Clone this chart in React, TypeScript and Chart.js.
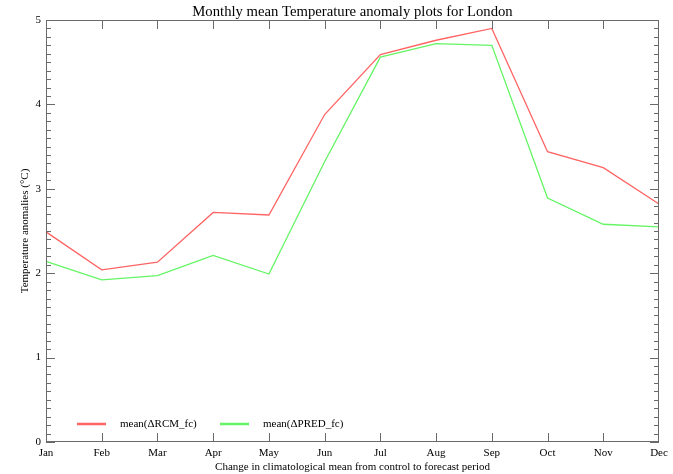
import React, { useEffect, useRef } from "react";
import { Chart, registerables } from "chart.js";

Chart.register(...registerables);

const months = ["Jan", "Feb", "Mar", "Apr", "May", "Jun", "Jul", "Aug", "Sep", "Oct", "Nov", "Dec"];
const rcmValues = [2.49, 2.04, 2.13, 2.72, 2.69, 3.88, 4.59, 4.76, 4.9, 3.44, 3.25, 2.82];
const predValues = [2.14, 1.92, 1.97, 2.21, 1.99, 3.32, 4.56, 4.72, 4.7, 2.89, 2.58, 2.55];
const seriesLabels = ["mean(\u0394RCM_fc)", "mean(\u0394PRED_fc)"];
const seriesColors = ["#ff6464", "#64f564"];
const chartTitle = "Monthly mean Temperature anomaly plots for London";
const xTitle = "Change in climatological mean from control to forecast period";
const yTitle = "Temperature anomalies (\u00b0C)";

const FONT = "'Liberation Serif', 'DejaVu Serif', serif";

const framePlugin = {
  id: "frame",
  afterDraw(chart: any) {
    const { ctx, chartArea, scales } = chart;
    const { left, right, top, bottom } = chartArea;
    const xs = scales.x;
    const ys = scales.y;
    ctx.save();
    ctx.strokeStyle = "#6a6a6a";
    ctx.lineWidth = 1;
    ctx.strokeRect(left + 0.5, top + 0.5, right - left - 1, bottom - top - 1);
    // y ticks (major at integers, minor every 0.1)
    for (let i = 0; i <= 50; i++) {
      const py = Math.round(ys.getPixelForValue(i / 10)) + 0.5;
      const len = i % 10 === 0 ? 9 : 5;
      ctx.beginPath();
      ctx.moveTo(left, py);
      ctx.lineTo(left + len, py);
      ctx.moveTo(right, py);
      ctx.lineTo(right - len, py);
      ctx.stroke();
    }
    // x ticks at each inner month (ends coincide with the frame)
    for (let i = 1; i < months.length - 1; i++) {
      const px = Math.round(xs.getPixelForValue(i)) + 0.5;
      ctx.beginPath();
      ctx.moveTo(px, bottom);
      ctx.lineTo(px, bottom - 9);
      ctx.moveTo(px, top);
      ctx.lineTo(px, top + 9);
      ctx.stroke();
    }
    // title centered over plot area
    ctx.fillStyle = "#000";
    ctx.font = "14.7px " + FONT;
    ctx.textAlign = "center";
    ctx.textBaseline = "middle";
    ctx.fillText(chartTitle, (left + right) / 2, 12);
    // legend inside plot area
    ctx.font = "11px " + FONT;
    ctx.textAlign = "left";
    const ly = bottom - 18;
    const items = chart.data.datasets;
    const starts = [left + 31, left + 174];
    items.forEach((ds: any, k: number) => {
      const sx = starts[k];
      ctx.strokeStyle = ds.borderColor;
      ctx.lineWidth = 2.5;
      ctx.beginPath();
      ctx.moveTo(sx, ly);
      ctx.lineTo(sx + 29, ly);
      ctx.stroke();
      ctx.fillStyle = "#000";
      ctx.fillText(ds.label, sx + 43, ly);
    });
    ctx.restore();
  },
};

export default function App() {
  const ref = useRef<HTMLCanvasElement | null>(null);
  useEffect(() => {
    if (!ref.current) return;
    const chart = new Chart(ref.current, {
      type: "line",
      data: {
        labels: months,
        datasets: [
          {
            label: seriesLabels[0],
            data: rcmValues,
            borderColor: seriesColors[0],
            borderWidth: 1.3,
            pointRadius: 0,
            fill: false,
            tension: 0,
          },
          {
            label: seriesLabels[1],
            data: predValues,
            borderColor: seriesColors[1],
            borderWidth: 1.3,
            pointRadius: 0,
            fill: false,
            tension: 0,
          },
        ],
      },
      options: {
        responsive: false,
        animation: false,
        layout: { padding: { top: 20, right: 14, left: 0, bottom: 0 } },
        plugins: {
          legend: { display: false },
          title: { display: false },
          tooltip: { enabled: false },
        },
        scales: {
          x: {
            type: "category",
            offset: false,
            grid: { display: false, drawTicks: false },
            border: { display: false },
            ticks: {
              autoSkip: false,
              maxRotation: 0,
              color: "#000",
              padding: 5,
              font: { family: FONT, size: 11 },
            },
            title: {
              display: true,
              text: xTitle,
              color: "#000",
              font: { family: FONT, size: 11 },
              padding: { top: 0, bottom: 0 },
            },
            afterFit: (s: any) => {
              s.height = 32;
            },
          },
          y: {
            min: 0,
            max: 5,
            grid: { display: false, drawTicks: false },
            border: { display: false },
            ticks: {
              stepSize: 1,
              color: "#000",
              padding: 5,
              font: { family: FONT, size: 11 },
            },
            title: {
              display: true,
              text: yTitle,
              color: "#000",
              font: { family: FONT, size: 11 },
              padding: { top: 19, bottom: 0 },
            },
            afterFit: (s: any) => {
              s.width = 46;
            },
          },
        },
      },
      plugins: [framePlugin],
    });
    return () => chart.destroy();
  }, []);
  return (
    <div style={{ position: "fixed", left: 0, top: 0, width: 673, height: 474, background: "#fff" }}>
      <canvas ref={ref} width={673} height={474} />
    </div>
  );
}
